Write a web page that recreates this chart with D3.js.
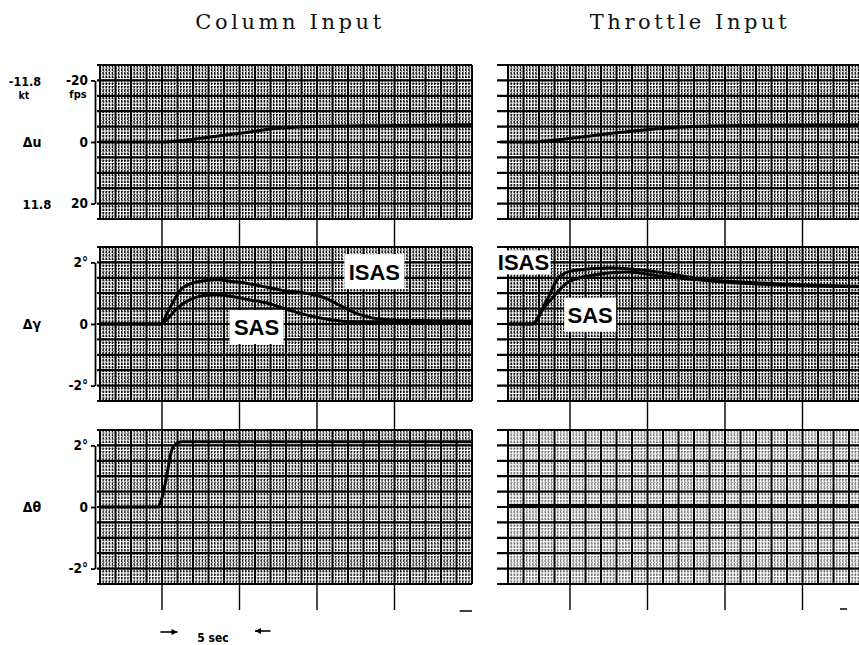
<!DOCTYPE html>
<html><head><meta charset="utf-8">
<script src="https://cdn.jsdelivr.net/npm/d3@7"></script>
<style>body{margin:0;background:#fff}svg{display:block}</style>
</head><body><svg id="c" width="859" height="645"></svg>
<script>
// ---------- DATA (read from the strip-chart recording) ----------
const panelTitles = ["Column Input", "Throttle Input"];
const timeTicks = [0, 5, 10, 15];            // seconds, marks between panels
const duTickValues = [-20, 0, 20];           // fps
const duTickLabels = ["-20", "0", "20"];
const duKnotLabels = ["-11.8", "kt", "11.8"];
const angTickValues = [2, 0, -2];            // degrees
const angTickLabels = ["2°", "0", "-2°"];
const rowNames = ["Δu", "Δγ", "Δθ"];

// Column input
const colDuT = [-4, 0, 1.5, 3.5, 5.6, 7.3, 10, 14, 20];
const colDuV = [0, 0, -0.6, -1.9, -3.2, -4.4, -5.0, -5.3, -5.6];
const colGamIsasT = [-4, -0.1, 0.5, 1.35, 2.4, 3.5, 4.5, 5.6, 6.7, 7.7, 9.5, 10.5, 11.5, 12.5, 13.5, 15, 20];
const colGamIsasV = [0, 0, 0.52, 1.18, 1.38, 1.44, 1.38, 1.31, 1.2, 1.1, 0.98, 0.85, 0.6, 0.35, 0.2, 0.13, 0.1];
const colGamSasT = [-4, -0.1, 1, 1.8, 2.6, 3.5, 4.5, 5.6, 6.7, 7.8, 8.8, 9.9, 11, 12.6, 15, 20];
const colGamSasV = [0, 0, 0.52, 0.79, 0.92, 0.95, 0.89, 0.79, 0.69, 0.52, 0.36, 0.23, 0.13, 0.07, 0.07, 0.05];
const colThetaT = [-4, -0.3, 0, 0.3, 0.6, 0.9, 1.3, 3, 20];
const colThetaV = [0, 0, 0.3, 1.0, 1.8, 2.05, 2.12, 2.12, 2.12];

// Throttle input
const thrDuT = [-4.5, -2.4, -1, 1, 3, 5, 7, 9, 12, 20];
const thrDuV = [0, 0, -0.6, -1.8, -3.0, -4.0, -4.8, -5.2, -5.4, -5.6];
const thrGamIsasT = [-4, -2.4, -1.5, -0.65, 0.45, 2.6, 4.7, 6.9, 8.4, 12.3, 20];
const thrGamIsasV = [0, 0, 0.77, 1.55, 1.75, 1.82, 1.75, 1.59, 1.46, 1.33, 1.2];
const thrGamSasT = [-4, -2.4, -1.9, -1.1, -0.2, 0.8, 1.9, 3.7, 5.8, 8.4, 12.3, 20];
const thrGamSasV = [0, 0, 0.38, 0.87, 1.33, 1.52, 1.62, 1.69, 1.56, 1.43, 1.29, 1.2];
const thrThetaT = [-4, 20];
const thrThetaV = [0.05, 0.05];

const seriesLabels = ["ISAS", "SAS"];

// ---------- LAYOUT ----------
const svg = d3.select("#c");
const tDomain = [-4, 20];
const xs = [
  d3.scaleLinear().domain(tDomain).range([100, 472]),
  d3.scaleLinear().domain(tDomain).range([508, 880])
];
const rowsDef = [
  {range: [65, 219], dom: [-25, 25], major: 5, minor: 1},
  {range: [247, 401], dom: [2.5, -2.5], major: 0.5, minor: 0.1},
  {range: [430, 584], dom: [2.5, -2.5], major: 0.5, minor: 0.1}
];
const ys = rowsDef.map(r => d3.scaleLinear().domain(r.dom).range(r.range));
const density = [[1, 1, 0.85], [0.95, 1, 0.5]];

const pairs = (T, V) => T.map((t, i) => [t, V[i]]);
const traces = [
  [[pairs(colDuT, colDuV)], [pairs(colGamIsasT, colGamIsasV), pairs(colGamSasT, colGamSasV)], [pairs(colThetaT, colThetaV)]],
  [[pairs(thrDuT, thrDuV)], [pairs(thrGamIsasT, thrGamIsasV), pairs(thrGamSasT, thrGamSasV)], [pairs(thrThetaT, thrThetaV)]]
];

function range(a, b, s) { const out = []; const n = Math.round((b - a) / s); for (let i = 0; i <= n; i++) out.push(a + i * s); return out; }

[0, 1].forEach(c => {
  const x = xs[c];
  const stub = c === 0 ? 3 : 11;
  rowsDef.forEach((r, ri) => {
    const y = ys[ri];
    const g = svg.append("g");
    const lo = Math.min(r.dom[0], r.dom[1]), hi = Math.max(r.dom[0], r.dom[1]);
    // minor texture
    const dens = density[c][ri];
    const minorT = range(tDomain[0], tDomain[1], 0.2).filter(t => Math.abs(t - Math.round(t)) > 1e-6);
    g.selectAll(".mv").data(minorT).join("line")
      .attr("x1", d => x(d)).attr("x2", d => x(d))
      .attr("y1", r.range[0]).attr("y2", r.range[1])
      .attr("stroke", "#000").attr("stroke-width", 1.4)
      .attr("stroke-dasharray", "2.6,0.9").attr("opacity", dens);
    const minorV = range(lo, hi, r.minor).filter(v => Math.abs(v / r.major - Math.round(v / r.major)) > 1e-6);
    g.selectAll(".mh").data(minorV).join("line")
      .attr("x1", x(tDomain[0])).attr("x2", x(tDomain[1]))
      .attr("y1", d => y(d)).attr("y2", d => y(d))
      .attr("stroke", "#000").attr("stroke-width", 1)
      .attr("stroke-dasharray", "1.5,1.6").attr("opacity", dens * 0.75);
    // major grid
    g.selectAll(".Mv").data(range(tDomain[0], tDomain[1], 1)).join("line")
      .attr("x1", d => x(d)).attr("x2", d => x(d))
      .attr("y1", r.range[0]).attr("y2", r.range[1])
      .attr("stroke", "#000").attr("stroke-width", 2);
    g.selectAll(".Mh").data(range(lo, hi, r.major)).join("line")
      .attr("x1", x(tDomain[0]) - stub).attr("x2", x(tDomain[1]))
      .attr("y1", d => y(d)).attr("y2", d => y(d))
      .attr("stroke", "#000").attr("stroke-width", 2.2);
    // traces
    const line = d3.line().x(d => x(d[0])).y(d => y(d[1])).curve(d3.curveMonotoneX);
    g.selectAll(".tr").data(traces[c][ri]).join("path")
      .attr("d", line).attr("fill", "none").attr("stroke", "#000")
      .attr("stroke-width", 3).attr("stroke-linejoin", "round");
    // time marks below each panel
    const nextTop = ri < 2 ? rowsDef[ri + 1].range[0] : 610;
    g.selectAll(".tm").data(timeTicks).join("line")
      .attr("x1", d => x(d)).attr("x2", d => x(d))
      .attr("y1", r.range[1]).attr("y2", nextTop)
      .attr("stroke", "#000").attr("stroke-width", 1.4);
  });
  // title
  svg.append("text").attr("x", c === 0 ? 290 : 690).attr("y", 29)
    .attr("text-anchor", "middle").attr("font-family", "DejaVu Serif, serif")
    .attr("font-size", 21).attr("letter-spacing", 3.6).attr("fill", "#111")
    .text(panelTitles[c]);
});
// short dashes at bottom right of each panel column
svg.append("line").attr("x1", xs[0](19.2)).attr("x2", xs[0](20)).attr("y1", 611).attr("y2", 611)
  .attr("stroke", "#000").attr("stroke-width", 1.5);
svg.append("line").attr("x1", 840).attr("x2", 847).attr("y1", 609).attr("y2", 609)
  .attr("stroke", "#000").attr("stroke-width", 1.5);

// ---------- LEFT AXES ----------
const lab = {"font-family": "DejaVu Sans Condensed, DejaVu Sans, sans-serif", "font-weight": "bold", "font-size": 11.5, "fill": "#000"};
function applyFont(sel) { Object.entries(lab).forEach(([k, v]) => sel.attr(k, v)); return sel; }

[0, 1, 2].forEach(ri => {
  const vals = ri === 0 ? duTickValues : angTickValues;
  const labels = ri === 0 ? duTickLabels : angTickLabels;
  const sc = d3.scaleLinear().domain([vals[0], vals[2]]).range([ys[ri](vals[0]), ys[ri](vals[2])]);
  const ax = d3.axisLeft(sc).tickValues(vals).tickSize(4).tickSizeOuter(0).tickPadding(3)
    .tickFormat((d, i) => labels[i]);
  const g = svg.append("g").attr("transform", "translate(95,0)").call(ax);
  g.select(".domain").attr("stroke-width", 1.8);
  g.selectAll(".tick line").attr("stroke-width", 1.8);
  applyFont(g.selectAll("text")).attr("font-size", 13.5);
  // row name
  applyFont(svg.append("text")).attr("x", 32).attr("y", ys[ri](0) + 5)
    .attr("text-anchor", "middle").attr("font-size", 14).text(rowNames[ri]);
});
// fps / kt labels
applyFont(svg.append("text")).attr("x", 78).attr("y", 98).attr("text-anchor", "middle").attr("font-size", 11).text("fps");
applyFont(svg.append("text")).attr("x", 25).attr("y", 85.5).attr("text-anchor", "middle").attr("font-size", 12.5).text(duKnotLabels[0]);
applyFont(svg.append("text")).attr("x", 24).attr("y", 99).attr("text-anchor", "middle").attr("font-size", 10.5).text(duKnotLabels[1]);
applyFont(svg.append("text")).attr("x", 37).attr("y", ys[0](20) + 5).attr("text-anchor", "middle").attr("font-size", 13).text(duKnotLabels[2]);

// ---------- SERIES LABEL BOXES ----------
const boxes = [
  {c: 0, t: 13.7, v: 1.7, w: 60, h: 35, s: 0},
  {c: 0, t: 6.1, v: -0.1, w: 54, h: 34, s: 1},
  {c: 1, t: -3.0, v: 2.0, w: 54, h: 24, s: 0},
  {c: 1, t: 1.3, v: 0.3, w: 52, h: 34, s: 1}
];
boxes.forEach(b => {
  const cx = xs[b.c](b.t), cy = ys[1](b.v);
  svg.append("rect").attr("x", cx - b.w / 2).attr("y", cy - b.h / 2).attr("width", b.w).attr("height", b.h).attr("fill", "#fff");
  svg.append("text").attr("x", cx).attr("y", cy + 8).attr("text-anchor", "middle")
    .attr("font-family", "Liberation Sans, Arial, sans-serif").attr("font-weight", "bold")
    .attr("font-size", 22).attr("fill", "#000").text(seriesLabels[b.s]);
});

// ---------- 5 sec scale ----------
const xL = xs[0];
applyFont(svg.append("text")).attr("x", 213).attr("y", 642).attr("text-anchor", "middle").attr("font-size", 12).text("5 sec");
svg.append("line").attr("x1", xL(-0.1)).attr("x2", xL(1)).attr("y1", 632).attr("y2", 632).attr("stroke", "#000").attr("stroke-width", 1.6);
svg.append("path").attr("d", `M${xL(1)},632 l-6,-3 v6 z`).attr("fill", "#000");
svg.append("line").attr("x1", xL(6)).attr("x2", xL(7)).attr("y1", 631).attr("y2", 631).attr("stroke", "#000").attr("stroke-width", 1.6);
svg.append("path").attr("d", `M${xL(6)},631 l6,-3 v6 z`).attr("fill", "#000");
</script></body></html>
